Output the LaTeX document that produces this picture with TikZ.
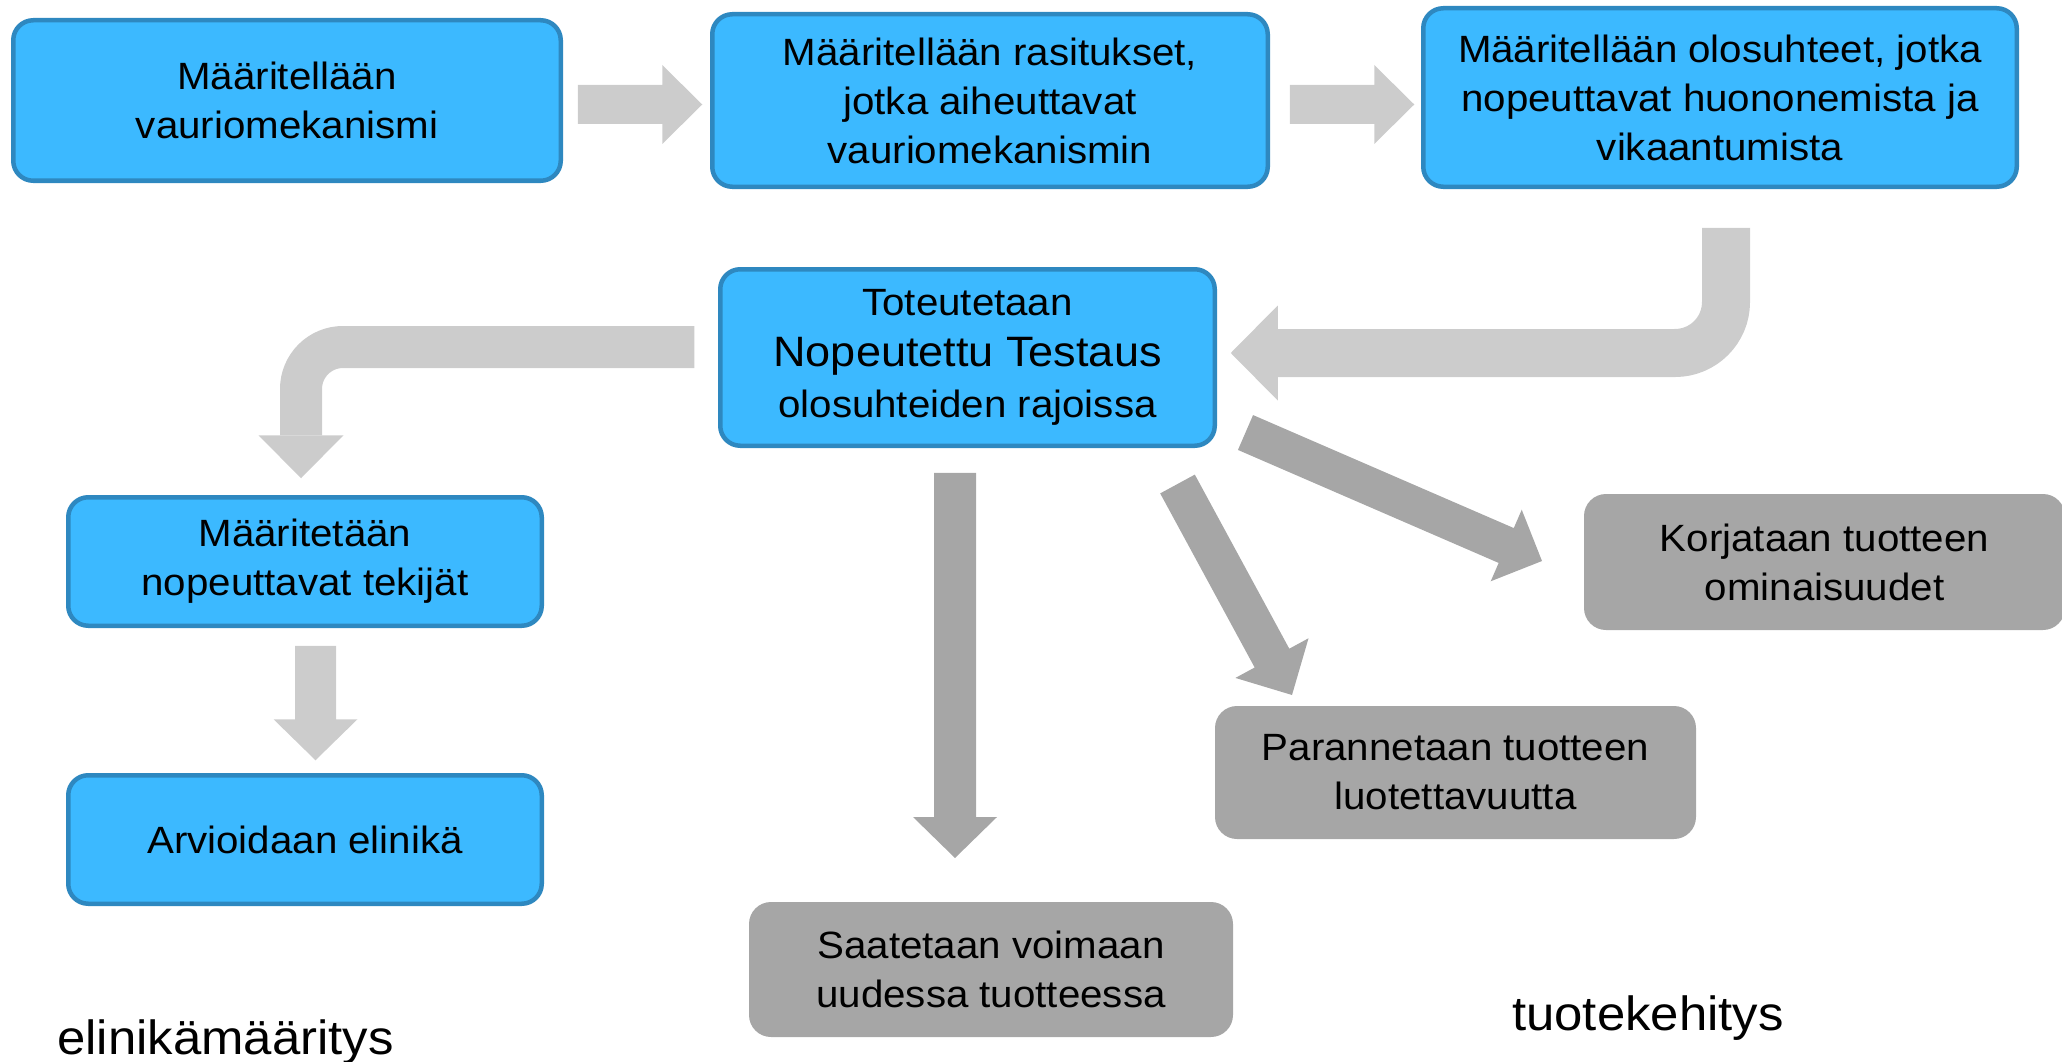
\documentclass[tikz,border=0pt]{standalone}
\usepackage{fontspec}
\setmainfont{Liberation Sans}[FakeStretch=1.06]
\usetikzlibrary{calc}
\definecolor{boxblue}{HTML}{3CB9FF}
\definecolor{boxedge}{HTML}{2E88C0}
\definecolor{boxgray}{HTML}{A6A6A6}
\definecolor{arrowlight}{HTML}{CCCCCC}
\definecolor{arrowdark}{HTML}{A6A6A6}
% #1 start, #2 tip, #3 half shaft, #4 half head, #5 head length, #6 colour
\newcommand\blockarrow[6]{%
  \coordinate (baA) at #1;
  \coordinate (baB) at #2;
  \coordinate (baH) at ($(baB)!#5!(baA)$);
  \fill[#6] ($(baA)!#3!90:(baB)$) -- ($(baH)!#3!-90:(baA)$) -- ($(baH)!#4!-90:(baA)$) -- (baB)
    -- ($(baH)!#4!90:(baA)$) -- ($(baH)!#3!90:(baA)$) -- ($(baA)!#3!-90:(baB)$) -- cycle;}
\begin{document}
\begin{tikzpicture}[x=1pt,y=-1pt,
  bluebox/.style={draw=boxedge, fill=boxblue, line width=4.5pt, rounded corners=20pt,
    align=center, inner sep=0pt, outer sep=0pt, font=\fontsize{38}{49}\selectfont},
  graybox/.style={fill=boxgray, rounded corners=22pt, align=center, inner sep=0pt,
    outer sep=0pt, font=\fontsize{38}{49}\selectfont},
  lbl/.style={inner sep=0pt, font=\fontsize{48}{58}\selectfont, anchor=base west}]
\useasboundingbox (0,0) rectangle (2062,1062);
\clip (0,0) rectangle (2062,1062);

% blue boxes
\node[bluebox, minimum width=547.5pt, minimum height=160.5pt] (b1) at (287,100.5)
  {Määritellään\\vauriomekanismi};
\node[bluebox, minimum width=555.5pt, minimum height=172.5pt] (b2) at (990,100.5)
  {Määritellään rasitukset,\\jotka aiheuttavat\\vauriomekanismin};
\node[bluebox, minimum width=593.5pt, minimum height=178.5pt] (b3) at (1720,97.5)
  {Määritellään olosuhteet, jotka\\nopeuttavat huononemista ja\\vikaantumista};
\node[bluebox, minimum width=494.5pt, minimum height=176.5pt] (b4) at (967.5,357.5)
  {Toteutetaan\\[2pt]{\fontsize{42.5}{52}\selectfont Nopeutettu Testaus}\\[2pt]olosuhteiden rajoissa};
\node[bluebox, minimum width=473.5pt, minimum height=128.5pt] (b5) at (305,561.5)
  {Määritetään\\nopeuttavat tekijät};
\node[bluebox, minimum width=473.5pt, minimum height=128.5pt] (b6) at (305,839.5)
  {Arvioidaan elinikä};

% gray boxes
\node[graybox, minimum width=481pt, minimum height=136pt] (g1) at (1824.5,562)
  {Korjataan tuotteen\\ominaisuudet};
\node[graybox, minimum width=481pt, minimum height=133pt] (g2) at (1455.5,772.5)
  {Parannetaan tuotteen\\luotettavuutta};
\node[graybox, minimum width=484pt, minimum height=135pt] (g3) at (991,969.5)
  {Saatetaan voimaan\\uudessa tuotteessa};

% straight light arrows
\blockarrow{($(b1.east)+(17,4)$)}{($(b2.west)+(-10,4)$)}{19.5pt}{39.5pt}{40pt}{arrowlight}
\blockarrow{($(b2.east)+(22,4)$)}{($(b3.west)+(-9,7)$)}{19.5pt}{39.5pt}{40pt}{arrowlight}
\blockarrow{($(b5.south)+(10.5,20)$)}{($(b6.north)+(10.5,-15)$)}{20.5pt}{42pt}{41pt}{arrowlight}

% bent arrow b3 -> b4
\coordinate (rbS) at ($(b3.south)+(6,41)$);
\coordinate (rbT) at ($(b4.east)+(16,-4.5)$);
\draw[arrowlight, line width=48pt, rounded corners=51pt] (rbS) |- ($(rbT)+(47,0)$);
\fill[arrowlight] ($(rbT)+(47,-47.5)$) -- (rbT) -- ($(rbT)+(47,47.5)$) -- cycle;

% bent arrow b4 -> b5
\coordinate (lbS) at ($(b4.west)+(-26,-10.5)$);
\coordinate (lbT) at ($(b5.north)+(-4,-19)$);
\draw[arrowlight, line width=42pt, rounded corners=42pt] (lbS) -| ($(lbT)+(0,-43)$);
\fill[arrowlight] ($(lbT)+(-42.5,-43)$) -- (lbT) -- ($(lbT)+(42.5,-43)$) -- cycle;

% dark arrows
\blockarrow{($(b4.south)+(-12.5,27)$)}{($(g3.north)+(-36,-44)$)}{21pt}{42pt}{41pt}{arrowdark}
\blockarrow{($(b4.south east)+(-37.25,38.25)$)}{($(g2.north west)+(77,-11)$)}{19.7pt}{41.6pt}{42pt}{arrowdark}
\blockarrow{($(b4.east)+(30.75,75)$)}{($(g1.west)+(-42,-1)$)}{19pt}{39pt}{39pt}{arrowdark}

% labels
\node[lbl] (l1) at (57,1054) {elinikämääritys};
\node[lbl] (l2) at (1512,1030) {tuotekehitys};
\end{tikzpicture}
\end{document}
